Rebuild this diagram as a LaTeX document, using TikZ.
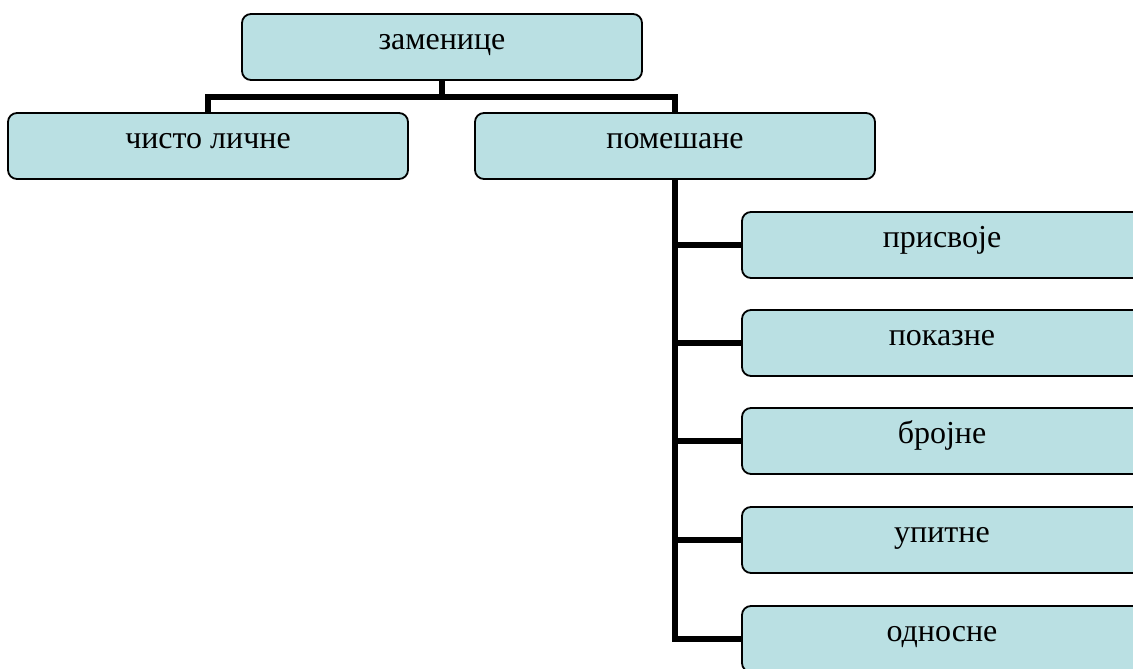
\documentclass[tikz,border=0pt]{standalone}
\usepackage{fontspec}
\setmainfont{Liberation Serif}
\usetikzlibrary{backgrounds}
\definecolor{boxfill}{RGB}{186,224,227}
\begin{document}
\begin{tikzpicture}[x=1pt,y=-1pt,
  box/.style={draw=black, line width=1.8pt, rounded corners=9pt, fill=boxfill,
    minimum width=400pt, minimum height=66pt, inner sep=0pt,
    font=\fontsize{32}{34}\selectfont, text height=18pt, text depth=13pt},
  conn/.style={draw=black, line width=6pt, line join=miter}]
\useasboundingbox (0,0) rectangle (1133,669);
\clip (0,0) rectangle (1133,669);
\node[box] (top) at (442,47) {заменице};
\node[box] (left) at (208,146) {чисто личне};
\node[box] (mid) at (675,146) {помешане};
\node[box] (r1) at (942,245) {присвоје};
\node[box] (r2) at (942,343) {показне};
\node[box] (r3) at (942,441) {бројне};
\node[box] (r4) at (942,540) {упитне};
\node[box] (r5) at (942,639) {односне};
\coordinate (hub) at (442,97);
\begin{scope}[on background layer]
\draw[conn] (top.south) -- (hub);
\draw[conn] (left.north) |- (hub) -| (mid.north);
\draw[conn] (mid.south) |- (r5.west);
\draw[conn] (mid.south |- r1.west) -- (r1.west);
\draw[conn] (mid.south |- r2.west) -- (r2.west);
\draw[conn] (mid.south |- r3.west) -- (r3.west);
\draw[conn] (mid.south |- r4.west) -- (r4.west);
\end{scope}
\end{tikzpicture}
\end{document}
